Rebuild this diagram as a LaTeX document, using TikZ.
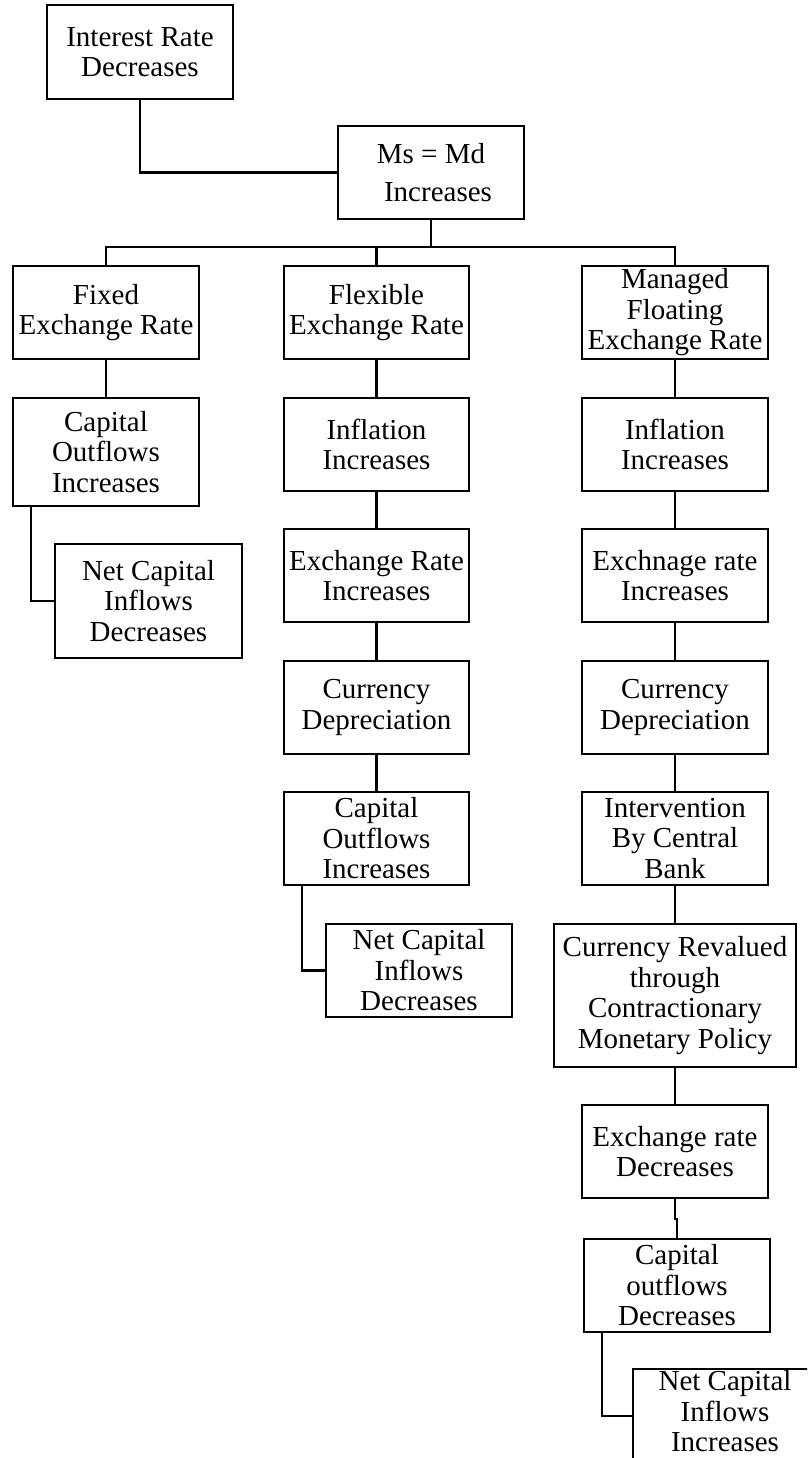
\documentclass[tikz,border=0pt]{standalone}
\usepackage{fontspec}
\setmainfont{Liberation Serif}
\tikzset{
  box/.style={draw, line width=2.2pt, inner sep=0pt, align=center,
    font=\fontsize{29}{30.5}\selectfont},
  link/.style={line width=2.2pt}
}
\newcommand\mybox[7][]{\node[box, #1, minimum width={(#5-#3)*1pt}, minimum height={(#6-#4)*1pt}] (#2) at ({(#3+#5)/2},{(#4+#6)/2}) {#7};}
\begin{document}
\begin{tikzpicture}[x=1pt,y=-1pt]
\useasboundingbox (0,0) rectangle (807,1458);
\clip (0,0) rectangle (807,1458);
% top
\mybox{top}{47}{5}{233}{99}{Interest Rate\\Decreases}
\mybox{ms}{338}{126}{524}{219}{Ms = Md\\[7pt]\hspace*{14pt}Increases}
% row 1
\mybox{fixed}{13}{266}{199}{359}{Fixed\\Exchange Rate}
\mybox{flex}{284}{266}{469}{359}{Flexible\\Exchange Rate}
\mybox{man}{582}{266}{768}{359}{Managed\\Floating\\Exchange Rate}
% fixed column
\mybox{fcap}{13}{398}{199}{506}{Capital\\Outflows\\Increases}
\mybox{fnet}{55}{544}{242}{658}{Net Capital\\Inflows\\Decreases}
% flexible column
\mybox{xinf}{284}{398}{469}{491}{Inflation\\Increases}
\mybox{xexc}{284}{529}{469}{622}{Exchange Rate\\Increases}
\mybox{xdep}{284}{661}{469}{754}{Currency\\Depreciation}
\mybox{xcap}{284}{792}{469}{885}{Capital\\Outflows\\Increases}
\mybox{xnet}{326}{924}{512}{1017}{Net Capital\\Inflows\\Decreases}
% managed column
\mybox{minf}{582}{398}{768}{491}{Inflation\\Increases}
\mybox{mexc}{582}{529}{768}{622}{Exchnage rate\\Increases}
\mybox{mdep}{582}{661}{768}{754}{Currency\\Depreciation}
\mybox{mint}{582}{792}{768}{885}{Intervention\\By Central\\Bank}
\mybox{mrev}{554}{924}{796}{1067}{Currency Revalued\\through\\Contractionary\\Monetary Policy}
\mybox{mexd}{582}{1105}{768}{1198}{Exchange rate\\Decreases}
\mybox{mcap}{584}{1239}{770}{1332}{Capital\\outflows\\Decreases}
\mybox[text depth=10pt]{mnet}{633}{1369}{817}{1463}{Net Capital\\Inflows\\Increases}
% connectors
\coordinate (bus) at (0,247);
\draw[link] (top.south) |- (ms.west);
\draw[link] (ms.south) -- (ms.south |- bus);
\draw[link] (fixed.north) |- (bus -| man.north) -- (man.north);
\draw[link] (flex.north) -- (flex.north |- bus);
\draw[link] (fixed) -- (fcap);
\draw[link] ([xshift=19pt]fcap.south west) |- (fnet.west);
\draw[link] (flex) -- (xinf);
\draw[link] (xinf) -- (xexc);
\draw[link] (xexc) -- (xdep);
\draw[link] (xdep) -- (xcap);
\draw[link] ([xshift=19pt]xcap.south west) |- (xnet.west);
\draw[link] (man) -- (minf);
\draw[link] (minf) -- (mexc);
\draw[link] (mexc) -- (mdep);
\draw[link] (mdep) -- (mint);
\draw[link] (mint) -- (mrev);
\draw[link] (mrev) -- (mexd);
\draw[link] (mexd.south) -- ++(0,20) -| (mcap.north);
\draw[link] ([xshift=19pt]mcap.south west) |- (mnet.west);
\end{tikzpicture}
\end{document}
